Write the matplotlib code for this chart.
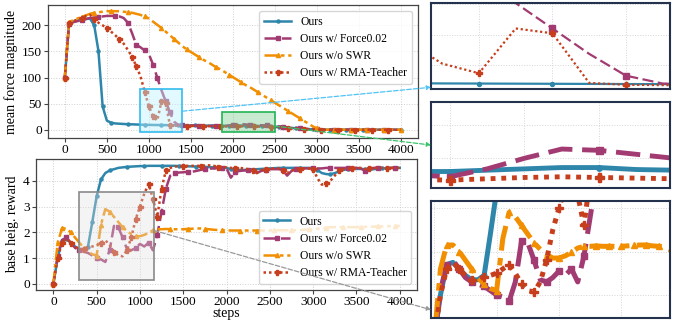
import numpy as np
import matplotlib.pyplot as plt
from matplotlib.patches import Rectangle, ConnectionPatch
from matplotlib.ticker import MultipleLocator

plt.rcParams['font.family'] = ['Liberation Serif', 'DejaVu Serif']

# x: training steps (every 50)
steps = np.arange(0, 4001, 50)

# ---- top panel: mean force magnitude ----
ours_force = [100, 203, 207, 209, 211, 212, 213, 200, 151, 45, 18, 14, 12.5, 12, 11.5, 11,
              10.8, 10.5, 10.2, 10, 9.8, 9.6, 9.5, 9.4, 9.3, 9.2, 9.1, 9.0, 8.9, 8.8, 8.7,
              8.6, 8.5, 8.4, 8.3, 8.2, 8.1, 8.0, 8.0, 8.2, 8.4, 8.6, 8.6, 8.3, 8.2, 8.0, 7.7,
              7.4, 7.0, 6.6, 6.2, 5.7, 5.1, 4.5, 3.9, 3.3, 2.7, 2.2, 1.7, 1.3, 1.0, 0.8, 0.7,
              0.6, 0.6, 0.6, 0.6, 0.6, 0.6, 0.6, 0.6, 0.6, 0.6, 0.6, 0.6, 0.6, 0.6, 0.6, 0.6, 0.6, 0.6]
force_force = [100, 203, 206, 208, 210, 212, 214, 215, 216, 217, 218, 218, 218, 217, 214, 205,
               185, 163, 158, 152, 145, 125, 100, 76, 55, 34, 16, 9.5, 9.0, 8.8, 8.6, 8.4,
               8.2, 8.0, 7.9, 7.8, 7.6, 7.5, 7.2, 8.4, 10.0, 11.4, 11.2, 10.6, 10.0, 9.6, 9.3,
               9.0, 8.6, 8.0, 7.5, 6.8, 6.0, 5.2, 4.4, 3.6, 2.9, 2.3, 1.8, 1.4, 1.1, 0.9, 0.8,
               0.7, 0.7, 0.7, 0.7, 0.7, 0.7, 0.7, 0.7, 0.7, 0.7, 0.7, 0.7, 0.7, 0.7, 0.7, 0.7, 0.7, 0.7]
swr_force = [100, 206, 210, 213, 216, 219, 222, 224, 225, 226, 227, 227, 227, 227, 226, 225,
             224, 222, 220, 217, 213, 207, 201, 195, 188, 181, 174, 167, 160, 154, 149, 144,
             139, 134, 130, 125, 120, 116, 111, 106, 101, 96, 91, 86, 82, 77, 72, 67, 62, 57,
             52, 47, 42, 37, 32, 27, 22, 17, 12, 7, 3, 1.2, 0.8,
             0.6, 0.6, 0.6, 0.6, 0.6, 0.6, 0.6, 0.6, 0.6, 0.6, 0.6, 0.6, 0.6, 0.6, 0.6, 0.6, 0.6, 0.6]
rma_force = [100, 205, 208, 211, 214, 218, 220, 212, 205, 200, 195, 188, 181, 173, 165, 153,
             140, 122, 103, 73, 45, 26, 18, 55, 51, 10, 8.5, 8.2, 8.0, 7.9, 7.8, 7.7, 7.6,
             7.5, 7.4, 7.3, 7.1, 6.8, 6.7, 6.9, 7.1, 7.2, 7.1, 7.0, 6.9, 6.8, 6.6, 6.4, 6.1,
             5.8, 5.4, 5.0, 4.5, 4.0, 3.5, 3.0, 2.5, 2.0, 1.6, 1.2, 0.9, 0.7, 0.6,
             0.5, 0.5, 0.5, 0.5, 0.5, 0.5, 0.5, 0.5, 0.5, 0.5, 0.5, 0.5, 0.5, 0.5, 0.5, 0.5, 0.5, 0.5]

# ---- bottom panel: base height reward ----
ours_rew = [0, 1.0, 1.7, 1.75, 1.6, 1.45, 1.35, 1.35, 1.45, 2.4, 3.4, 4.05, 4.3, 4.4, 4.45, 4.5,
            4.52, 4.54, 4.55, 4.56, 4.57, 4.57, 4.58, 4.58, 4.58, 4.58, 4.58, 4.58, 4.58, 4.57,
            4.57, 4.56, 4.56, 4.55, 4.55, 4.54, 4.53, 4.52, 4.52, 4.51, 4.5, 4.45, 4.42, 4.42,
            4.42, 4.43, 4.45, 4.45, 4.46, 4.47, 4.48, 4.49, 4.5, 4.5, 4.5, 4.5, 4.5, 4.5, 4.5,
            4.5, 4.5, 4.42, 4.3, 4.26, 4.25, 4.3, 4.36, 4.42, 4.45, 4.46, 4.46, 4.46, 4.45,
            4.42, 4.45, 4.47, 4.48, 4.49, 4.5, 4.5, 4.5]
force_rew = [0, 1.1, 1.7, 1.8, 1.6, 1.4, 1.3, 1.25, 1.2, 1.1, 1.0, 0.95, 0.85, 1.3, 2.25, 2.2,
             1.8, 1.35, 1.3, 1.4, 1.55, 1.45, 1.6, 1.3, 1.9, 2.8, 3.7, 4.2, 4.3, 4.32, 4.33,
             4.35, 4.35, 4.38, 4.42, 4.45, 4.47, 4.48, 4.5, 4.5, 4.48, 4.12, 4.35, 4.38, 4.4,
             4.4, 4.4, 4.3, 4.38, 4.42, 4.45, 4.45, 4.45, 4.42, 4.2, 4.38, 4.45, 4.47, 4.48,
             4.48, 4.48, 4.48, 4.48, 4.5, 4.5, 4.5, 4.5, 4.5, 4.5, 4.5, 4.5, 4.48, 4.38, 4.47,
             4.5, 4.5, 4.5, 4.5, 4.5, 4.5, 4.5]
swr_rew = [0, 1.6, 2.15, 2.15, 2.0, 1.8, 1.6, 1.4, 1.25, 1.15, 1.1, 2.3, 2.9, 2.8, 2.6, 2.4,
           2.2, 2.05, 1.93, 1.85, 1.85, 1.9, 1.98, 2.08, 2.12, 2.12, 2.13, 2.12, 2.12, 2.12,
           2.12, 2.13, 2.14, 2.15, 2.15, 2.13, 2.12, 2.1, 2.09, 2.08, 2.08, 2.07, 2.07, 2.07,
           2.07, 2.07, 2.07, 2.07, 2.07, 2.07, 2.07, 2.08, 2.08, 2.08, 2.08, 2.08, 2.08, 2.09,
           2.1, 2.11, 2.12, 2.14, 2.16, 2.18, 2.2, 2.2, 2.2, 2.2, 2.2, 2.2, 2.2, 2.21, 2.21,
           2.22, 2.22, 2.23, 2.23, 2.24, 2.24, 2.25, 2.25]
rma_rew = [0, 1.0, 1.6, 1.75, 1.6, 1.45, 1.35, 1.35, 1.42, 1.45, 1.5, 1.6, 1.7, 1.5, 1.25, 1.1,
           1.07, 1.3, 1.8, 2.5, 3.0, 3.5, 3.88, 3.3, 2.6, 3.7, 4.4, 4.5, 4.55, 4.57, 4.57,
           4.58, 4.58, 4.58, 4.58, 4.6, 4.6, 4.58, 4.55, 4.55, 4.52, 4.5, 4.5, 4.5, 4.48, 4.45,
           4.4, 4.3, 4.42, 4.45, 4.47, 4.48, 4.48, 4.42, 4.3, 4.4, 4.45, 4.47, 4.48, 4.48,
           4.45, 4.1, 3.85, 3.9, 4.0, 4.2, 4.4, 4.45, 4.47, 4.48, 4.5, 4.5, 4.45, 4.5, 4.5,
           4.5, 4.5, 4.5, 4.5, 4.5, 4.5]

labels = ['Ours', 'Ours w/ Force0.02', 'Ours w/o SWR', 'Ours w/ RMA-Teacher']
colors = ['#2E86AB', '#A23B72', '#F18F01', '#C73E1D']
lstyles = ['-', (0, (5, 2)), (0, (5, 1.5, 1.5, 1.5)), (0, (1, 1.2))]
markers = ['o', 's', '^', 'P']
msizes = [2.2, 2.8, 3.0, 3.6]

top_series = [ours_force, force_force, swr_force, rma_force]
bot_series = [ours_rew, force_rew, swr_rew, rma_rew]


def draw(ax, series, lw, every, ms_scale=1.0, label=True):
    for i, ys in enumerate(series):
        ax.plot(steps, ys, color=colors[i], ls=lstyles[i], lw=lw,
                marker=markers[i], ms=msizes[i] * ms_scale, markevery=every,
                label=labels[i] if label else None)


def style_main(ax, ystep):
    ax.grid(True, ls=':', color='#cfcfcf', lw=0.7)
    for s in ax.spines.values():
        s.set_color('#444444')
        s.set_linewidth(0.9)
    ax.tick_params(labelsize=9.6, length=3, pad=1.5, color='#444444')
    ax.xaxis.set_major_locator(MultipleLocator(500))
    ax.yaxis.set_major_locator(MultipleLocator(ystep))


def style_inset(ax, xstep, ystep):
    ax.grid(True, ls=':', color='#d5d5d5', lw=0.7)
    for s in ax.spines.values():
        s.set_color('#25324d')
        s.set_linewidth(1.5)
    ax.xaxis.set_major_locator(MultipleLocator(xstep))
    ax.yaxis.set_major_locator(MultipleLocator(ystep))
    ax.tick_params(left=False, bottom=False, labelleft=False, labelbottom=False)


fig = plt.figure(figsize=(6.81, 3.22), dpi=100)
ax_top = fig.add_axes([0.0705, 0.571, 0.543, 0.413])
ax_bot = fig.add_axes([0.0529, 0.1, 0.5595, 0.405])
ins1 = fig.add_axes([0.633, 0.7236, 0.351, 0.267])
ins2 = fig.add_axes([0.633, 0.416, 0.351, 0.267])
ins3 = fig.add_axes([0.633, 0.0124, 0.351, 0.363])

# main panels
draw(ax_top, top_series, 1.8, 0.043)
draw(ax_bot, bot_series, 1.8, 0.043)
style_main(ax_top, 50)
style_main(ax_bot, 1)
ax_top.set_ylabel('mean force magnitude', fontsize=10, labelpad=3)
ax_bot.set_ylabel('base heig. reward', fontsize=10, labelpad=3)
ax_bot.set_xlabel('steps', fontsize=10, labelpad=-1)

leg_kw = dict(fontsize=8.4, handlelength=2.3, labelspacing=0.45, framealpha=0.8,
              edgecolor='#cccccc')
ax_top.legend(loc='upper right', **leg_kw)
ax_bot.legend(loc='lower right', **leg_kw)

# highlight boxes
box1 = Rectangle((900, -4), 500, 82, fc=(0.75, 0.95, 1.0, 0.45), ec='#33bbee', lw=1.2, zorder=5)
box2 = Rectangle((1870, -4), 630, 38, fc=(0.45, 0.8, 0.55, 0.4), ec='#22b455', lw=1.2, zorder=5)
box3 = Rectangle((300, 0.15), 865, 3.4, fc=(0.88, 0.88, 0.88, 0.35), ec='#8a8a8a', lw=1.2, zorder=5)
ax_top.add_patch(box1)
ax_top.add_patch(box2)
ax_bot.add_patch(box3)

# zoomed insets
draw(ins1, top_series, 1.6, 2, 1.3, label=False)
ins1.set_xlim(1035, 1360)
ins1.set_ylim(5, 76)
style_inset(ins1, 100, 25)

draw(ins2, top_series, 3.5, (2, 4), 1.8, label=False)
ins2.set_xlim(1875, 2195)
ins2.set_ylim(5.5, 18.5)
style_inset(ins2, 100, 5)

draw(ins3, bot_series, 3.6, 2, 1.5, label=False)
ins3.set_xlim(-25, 1890)
ins3.set_ylim(0.47, 3.16)
style_inset(ins3, 500, 1)

# connectors
for (xa, ya), axa, yb, axb, col in [((1400, 36), ax_top, 0.02, ins1, '#4fc3f7'),
                                     ((2500, 7.5), ax_top, 0.5, ins2, '#3cc46a'),
                                     ((1165, 2.07), ax_bot, 0.07, ins3, '#999999')]:
    con = ConnectionPatch(xyA=(xa, ya), coordsA=axa.transData, xyB=(0, yb),
                          coordsB=axb.transAxes, arrowstyle='-|>', mutation_scale=6,
                          ls='--', lw=0.9, color=col)
    fig.add_artist(con)

plt.savefig('out.png', dpi=100)
